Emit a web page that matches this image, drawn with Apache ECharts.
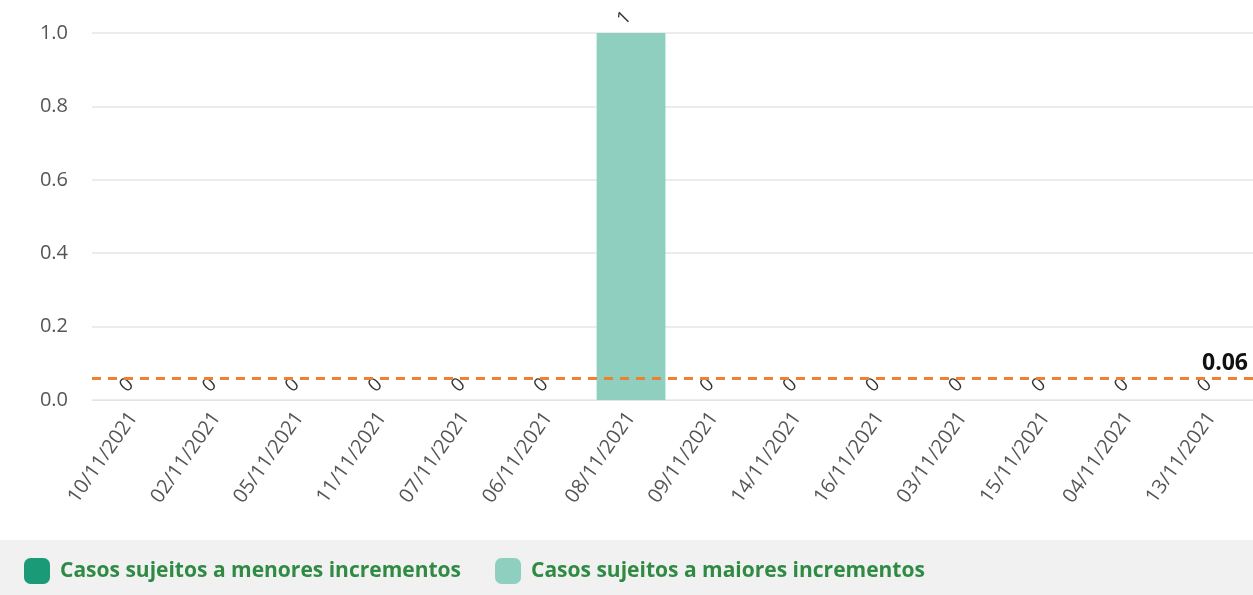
<!DOCTYPE html>
<html>
<head>
<meta charset="utf-8">
<script src="https://cdn.jsdelivr.net/npm/echarts@6/dist/echarts.min.js"></script>
<style>
    html, body { margin: 0; padding: 0; background: #fff; }
    #chart { width: 1253px; height: 595px; }
</style>
</head>
<body>
<div id="chart"></div>
<script>
    var categories = ['10/11/2021', '02/11/2021', '05/11/2021', '11/11/2021', '07/11/2021', '06/11/2021', '08/11/2021',
        '09/11/2021', '14/11/2021', '16/11/2021', '03/11/2021', '15/11/2021', '04/11/2021', '13/11/2021'];
    var menores = [0, 0, 0, 0, 0, 0, 0, 0, 0, 0, 0, 0, 0, 0];
    var maiores = [0, 0, 0, 0, 0, 0, 1, 0, 0, 0, 0, 0, 0, 0];
    var media = 0.06;
    var yTicks = [0, 0.2, 0.4, 0.6, 0.8, 1.0];

    var myChart = echarts.init(document.getElementById('chart'), null, { renderer: 'canvas' });
    var option = {
        textStyle: { fontFamily: 'Open Sans' },
        graphic: [{
            type: 'rect',
            z: -1,
            shape: { x: 0, y: 540, width: 1253, height: 55 },
            style: { fill: '#f1f1f1' }
        }],
        legend: {
            left: 19,
            top: 553,
            icon: 'roundRect',
            itemWidth: 26,
            itemHeight: 26,
            itemGap: 34,
            textStyle: { fontSize: 21, fontWeight: 'bold', color: '#2f8a43', fontFamily: 'Open Sans', padding: [0, 0, 0, 5] },
            data: ['Casos sujeitos a menores incrementos', 'Casos sujeitos a maiores incrementos']
        },
        grid: { left: 92, right: -8, top: 33, bottom: 195 },
        xAxis: {
            type: 'category',
            data: categories,
            axisTick: { show: false },
            axisLine: { show: true, lineStyle: { color: '#e3e3e3' } },
            axisLabel: { rotate: 55, interval: 0, fontSize: 20, color: '#555', margin: 14 }
        },
        yAxis: {
            type: 'value',
            min: yTicks[0],
            max: yTicks[yTicks.length - 1],
            interval: 0.2,
            axisLabel: {
                fontSize: 20, color: '#555', margin: 24,
                formatter: function (v) { return v.toFixed(1); }
            },
            splitLine: { lineStyle: { color: '#e6e6e6', width: 1.5 } }
        },
        series: [{
            name: 'Casos sujeitos a menores incrementos',
            type: 'bar',
            stack: 'total',
            data: menores,
            barWidth: '83%',
            itemStyle: { color: '#1b9a78' }
        }, {
            name: 'Casos sujeitos a maiores incrementos',
            type: 'bar',
            stack: 'total',
            data: maiores,
            barWidth: '83%',
            itemStyle: { color: '#8fcfbf' },
            label: {
                show: true,
                position: 'top',
                distance: 8,
                rotate: 45,
                fontSize: 19,
                color: '#333'
            },
            markLine: {
                symbol: 'none',
                silent: true,
                data: [{ yAxis: media }],
                lineStyle: { color: '#ef8030', type: [9, 7], width: 3 },
                label: {
                    position: 'insideEndTop',
                    formatter: '0.06',
                    fontSize: 23,
                    fontWeight: 'bold',
                    color: '#111',
                    distance: [5, 3]
                }
            }
        }]
    };
    myChart.setOption(option);
</script>
</body>
</html>
